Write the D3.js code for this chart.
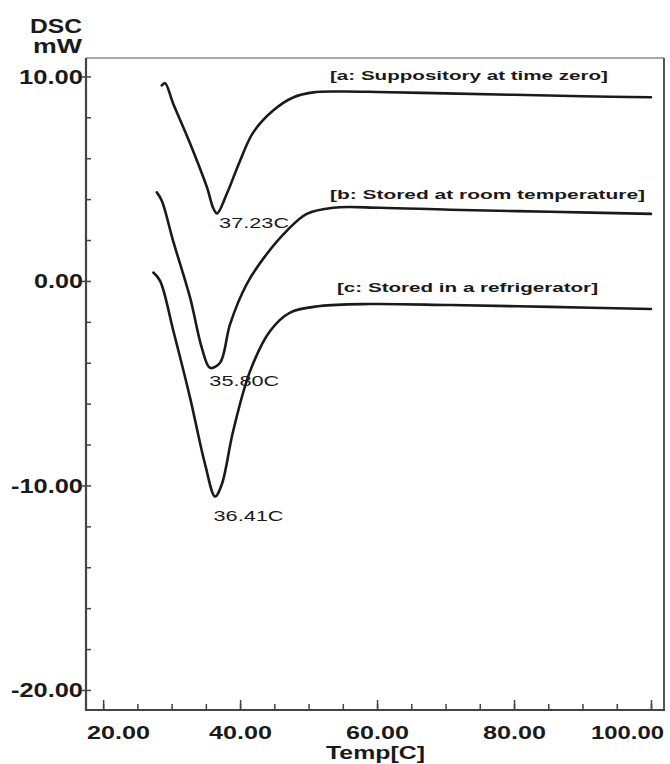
<!DOCTYPE html>
<html>
<head>
<meta charset="utf-8">
<script src="https://cdn.jsdelivr.net/npm/d3@7"></script>
<style>
  body { margin: 0; background: #fff; }
  text { font-family: 'Liberation Sans', Arial, sans-serif; fill: #1a1a1a; }
</style>
</head>
<body>
<div id="chart"></div>
<script>
'use strict'

// curve a: suppository at time zero
const tempA = [28.57, 29.05, 30.22, 32.70, 35.18, 36.06, 36.64, 38.06, 40.0, 41.9, 44.82, 47.74, 50.66, 54.6, 60.0, 70.0, 80.0, 90.0, 100.0]
const dscA = [9.56, 9.67, 8.68, 6.72, 4.56, 3.58, 3.30, 4.26, 5.88, 7.25, 8.33, 8.97, 9.22, 9.26, 9.24, 9.17, 9.10, 9.03, 8.98]
// curve b: stored at room temperature
const tempB = [27.84, 28.57, 30.22, 32.70, 34.41, 35.62, 37.08, 38.54, 40.98, 43.9, 46.82, 49.74, 53.58, 60.44, 70.66, 85.26, 100.0]
const dscB = [4.33, 3.92, 1.96, -0.82, -3.27, -4.25, -4.00, -2.11, -0.15, 1.32, 2.45, 3.28, 3.58, 3.58, 3.48, 3.38, 3.28]
// curve c: stored in a refrigerator
const tempC = [27.34, 28.32, 30.26, 32.70, 34.89, 36.35, 37.33, 38.98, 41.46, 44.38, 47.30, 51.68, 58.98, 70.66, 85.26, 100.0]
const dscC = [0.41, 0.0, -2.45, -5.72, -8.97, -10.54, -9.95, -7.35, -4.41, -2.45, -1.55, -1.23, -1.13, -1.18, -1.27, -1.37]

const seriesNames = ['[a: Suppository at time zero]', '[b: Stored at room temperature]', '[c: Stored in a refrigerator]']
const peakTemps = [37.23, 35.80, 36.41]
const peakLabels = ['37.23C', '35.80C', '36.41C']

const xTicks = [20, 40, 60, 80, 100]
const yTicks = [10, 0, -10, -20]

const width = 670
const height = 764
const plot = { left: 86, right: 664, top: 58, bottom: 710 }

const svg = d3.select('#chart')
  .append('svg')
  .attr('width', width)
  .attr('height', height)

const xScale = d3.scaleLinear()
  .domain([17.5, 101.9])
  .range([plot.left, plot.right])

const yScale = d3.scaleLinear()
  .domain([-20.98, 10.9])
  .range([plot.bottom, plot.top])

// frame
svg.append('line')
  .attr('x1', plot.left).attr('x2', plot.right)
  .attr('y1', plot.top).attr('y2', plot.top)
  .attr('stroke', '#8a8a8a')
  .attr('stroke-width', 1.5)
svg.append('line')
  .attr('x1', plot.right).attr('x2', plot.right)
  .attr('y1', plot.top).attr('y2', plot.bottom)
  .attr('stroke', '#555')
  .attr('stroke-width', 2)

// bottom axis, ticks pointing up into the plot
const xAxisMinor = d3.axisBottom(xScale)
  .tickValues(d3.range(20, 101, 5))
  .tickSizeInner(-6)
  .tickSizeOuter(0)
  .tickFormat('')
svg.append('g')
  .attr('transform', `translate(0, ${plot.bottom})`)
  .call(xAxisMinor)
  .call(g => g.select('.domain').remove())
  .call(g => g.selectAll('line').attr('stroke', '#444').attr('stroke-width', 1.5))

const xAxisMajor = d3.axisBottom(xScale)
  .tickValues(xTicks)
  .tickSizeInner(-10)
  .tickSizeOuter(0)
  .tickPadding(29)
  .tickFormat(d => d.toFixed(2))
svg.append('g')
  .attr('transform', `translate(0, ${plot.bottom})`)
  .call(xAxisMajor)
  .call(g => g.select('.domain').remove())
  .call(g => g.selectAll('line').attr('stroke', '#444').attr('stroke-width', 1.5))
  .call(g => g.selectAll('text')
    .attr('font-size', 19)
    .attr('font-weight', 'bold')
    .attr('dy', 0)
    .attr('textLength', d => (d === 100 ? 73 : 63))
    .attr('lengthAdjust', 'spacingAndGlyphs')
    .attr('text-anchor', 'middle')
    .attr('x', d => (d === 20 ? 15 : d === 100 ? -24 : 0)))

svg.append('line')
  .attr('x1', plot.left - 1).attr('x2', plot.right + 1)
  .attr('y1', plot.bottom).attr('y2', plot.bottom)
  .attr('stroke', '#444')
  .attr('stroke-width', 2.2)

// left axis, minor ticks every 2 pointing right
const yAxisMinor = d3.axisLeft(yScale)
  .tickValues(d3.range(-20, 11, 2))
  .tickSizeInner(-5)
  .tickSizeOuter(0)
  .tickFormat('')
svg.append('g')
  .attr('transform', `translate(${plot.left}, 0)`)
  .call(yAxisMinor)
  .call(g => g.select('.domain').remove())
  .call(g => g.selectAll('line').attr('stroke', '#444').attr('stroke-width', 1.5))

const yAxisMajor = d3.axisLeft(yScale)
  .tickValues(yTicks)
  .tickSizeInner(4)
  .tickSizeOuter(0)
  .tickPadding(0)
  .tickFormat(d => d.toFixed(2))
svg.append('g')
  .attr('transform', `translate(${plot.left}, 0)`)
  .call(yAxisMajor)
  .call(g => g.select('.domain').remove())
  .call(g => g.selectAll('line').attr('stroke', '#444').attr('stroke-width', 1.5))
  .call(g => g.selectAll('text')
    .attr('font-size', 20)
    .attr('font-weight', 'bold')
    .attr('x', -3)
    .attr('dy', '0.35em')
    .attr('textLength', d => (d === 0 ? 49 : d === 10 ? 64 : 72))
    .attr('lengthAdjust', 'spacingAndGlyphs'))

svg.append('line')
  .attr('x1', plot.left).attr('x2', plot.left)
  .attr('y1', plot.top).attr('y2', plot.bottom + 1)
  .attr('stroke', '#444')
  .attr('stroke-width', 2.2)

// axis titles
svg.append('text')
  .attr('x', 56).attr('y', 33)
  .attr('text-anchor', 'middle')
  .attr('font-size', 20).attr('font-weight', 'bold')
  .attr('textLength', 52).attr('lengthAdjust', 'spacingAndGlyphs')
  .text('DSC')
svg.append('text')
  .attr('x', 82).attr('y', 53)
  .attr('text-anchor', 'end')
  .attr('font-size', 20).attr('font-weight', 'bold')
  .attr('textLength', 49).attr('lengthAdjust', 'spacingAndGlyphs')
  .text('mW')
svg.append('text')
  .attr('x', 375.5).attr('y', 759)
  .attr('text-anchor', 'middle')
  .attr('font-size', 18).attr('font-weight', 'bold')
  .attr('textLength', 99).attr('lengthAdjust', 'spacingAndGlyphs')
  .text('Temp[C]')

// curves
const curves = [
  { temp: tempA, dsc: dscA },
  { temp: tempB, dsc: dscB },
  { temp: tempC, dsc: dscC }
]

const line = d3.line()
  .x(d => xScale(d[0]))
  .y(d => yScale(d[1]))
  .curve(d3.curveCatmullRom.alpha(0.5))

svg.selectAll('.curve')
  .data(curves)
  .enter()
  .append('path')
  .attr('class', 'curve')
  .attr('d', c => line(d3.zip(c.temp, c.dsc)))
  .attr('fill', 'none')
  .attr('stroke', '#1a1a1a')
  .attr('stroke-width', 2.6)
  .attr('stroke-linecap', 'round')
  .attr('stroke-linejoin', 'round')

// series labels
const nameX = [330, 330, 337]
const nameY = [80, 199, 292]
const nameW = [278, 315, 261]
svg.selectAll('.series-name')
  .data(seriesNames)
  .enter()
  .append('text')
  .attr('class', 'series-name')
  .attr('x', (d, i) => nameX[i])
  .attr('y', (d, i) => nameY[i])
  .attr('font-size', 12)
  .attr('font-weight', 'bold')
  .attr('textLength', (d, i) => nameW[i])
  .attr('lengthAdjust', 'spacingAndGlyphs')
  .text(d => d)

// peak labels, under each minimum
const peakDy = [15, 18, 25]
svg.selectAll('.peak-label')
  .data(curves)
  .enter()
  .append('text')
  .attr('class', 'peak-label')
  .attr('x', (c, i) => xScale(peakTemps[i]) - 2)
  .attr('y', (c, i) => yScale(d3.min(c.dsc)) + peakDy[i])
  .attr('font-size', 15)
  .attr('textLength', 70)
  .attr('lengthAdjust', 'spacingAndGlyphs')
  .text((c, i) => peakLabels[i])
</script>
</body>
</html>
